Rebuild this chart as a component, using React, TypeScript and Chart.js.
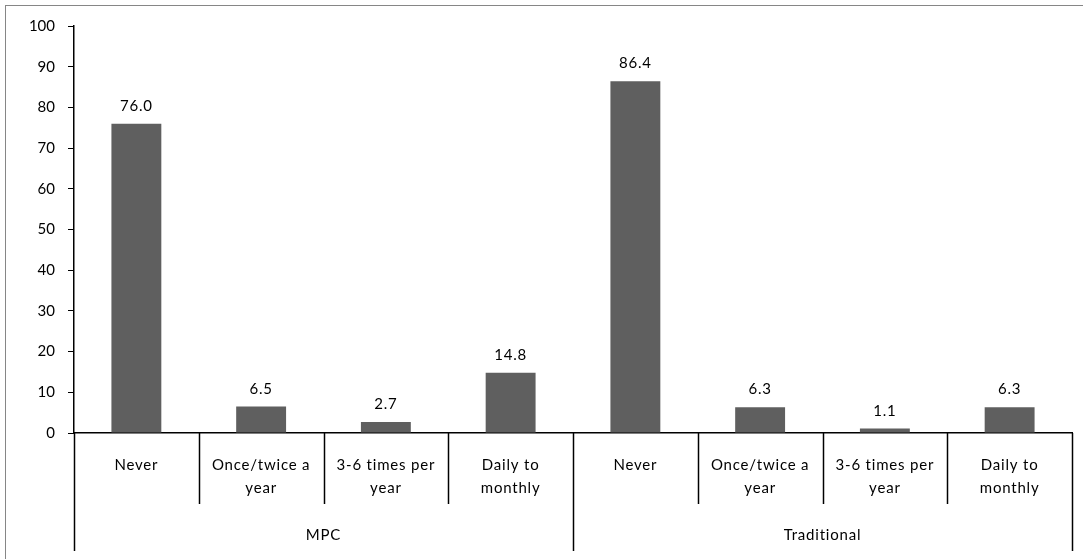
import React, { useEffect, useRef } from "react";
import { Chart, registerables } from "chart.js";

Chart.register(...registerables);

const groups = ["MPC", "Traditional"];
const categories = [
  ["Never"],
  ["Once/twice a", "year"],
  ["3-6 times per", "year"],
  ["Daily to", "monthly"],
];
const mpcValues = [76.0, 6.5, 2.7, 14.8];
const traditionalValues = [86.4, 6.3, 1.1, 6.3];
const yTicks = [0, 10, 20, 30, 40, 50, 60, 70, 80, 90, 100];

const FONT = "Lato, 'Open Sans', sans-serif";

export default function App() {
  const ref = useRef<HTMLCanvasElement | null>(null);

  useEffect(() => {
    document.body.style.margin = "0";
    const labels: string[][] = [];
    groups.forEach(() => categories.forEach((c) => labels.push(c)));
    const values = [...mpcValues, ...traditionalValues];

    const overlay = {
      id: "overlay",
      afterDraw(chart: any) {
        const ctx = chart.ctx;
        const x = chart.scales.x;
        const y = chart.scales.y;
        const bottom = chart.chartArea.bottom;
        const n = labels.length;
        const step = x.getPixelForValue(1) - x.getPixelForValue(0);
        ctx.save();
        ctx.fillStyle = "#000";
        ctx.font = `15px ${FONT}`;
        try {
          (ctx as any).letterSpacing = "0.8px";
        } catch (e) {}
        ctx.textAlign = "center";
        ctx.textBaseline = "alphabetic";
        values.forEach((v, i) => {
          const px = x.getPixelForValue(i);
          const py = y.getPixelForValue(v);
          ctx.fillText(v.toFixed(1), px, py - 13);
        });
        // separators
        ctx.strokeStyle = "#000";
        ctx.lineWidth = 1.5;
        for (let i = 0; i <= n; i++) {
          const bx = Math.round(x.getPixelForValue(i) - step / 2) + 0.5;
          const isGroup = i % categories.length === 0;
          ctx.beginPath();
          ctx.moveTo(bx, bottom);
          ctx.lineTo(bx, isGroup ? bottom + 118 : bottom + 71);
          ctx.stroke();
        }
        // category labels
        ctx.textBaseline = "middle";
        labels.forEach((lines, i) => {
          const px = x.getPixelForValue(i);
          lines.forEach((t, k) => {
            ctx.fillText(t, px, bottom + 32 + k * 23);
          });
        });
        // group labels
        groups.forEach((g, gi) => {
          const a = x.getPixelForValue(gi * categories.length) - step / 2;
          const b = x.getPixelForValue((gi + 1) * categories.length - 1) + step / 2;
          ctx.fillText(g, (a + b) / 2, bottom + 102);
        });
        ctx.restore();
      },
    };

    const chart = new Chart(ref.current as HTMLCanvasElement, {
      type: "bar",
      data: {
        labels: labels.map((l) => l.join(" ")),
        datasets: [
          {
            data: values,
            backgroundColor: "#5f5f5f",
            categoryPercentage: 1,
            barPercentage: 0.4,
          },
        ],
      },
      options: {
        animation: false,
        responsive: false,
        maintainAspectRatio: false,
        layout: { padding: { top: 26, right: 11, left: 0, bottom: 0 } },
        plugins: { legend: { display: false }, tooltip: { enabled: false } },
        scales: {
          x: {
            grid: { display: false },
            ticks: { display: false },
            border: { display: true, color: "#000", width: 1.5 },
            afterFit: (s: any) => {
              s.height = 126;
            },
          },
          y: {
            min: 0,
            max: 100,
            afterBuildTicks: (s: any) => {
              s.ticks = yTicks.map((v) => ({ value: v }));
            },
            grid: {
              drawOnChartArea: false,
              drawTicks: true,
              tickLength: 6,
              color: "#000",
              lineWidth: 1,
            },
            border: { display: true, color: "#000", width: 1.5 },
            ticks: {
              color: "#000",
              font: { family: FONT, size: 15 },
              padding: 13,
            },
            afterFit: (s: any) => {
              s.width = 74;
            },
          },
        },
      },
      plugins: [overlay],
    });
    return () => chart.destroy();
  }, []);

  return (
    <div style={{ position: "relative", width: 1083, height: 559 }}>
      <canvas ref={ref} width={1083} height={559} style={{ position: "absolute", left: 0, top: 0 }} />
      <div
        style={{
          position: "absolute",
          left: 5,
          top: 5,
          width: 1090,
          height: 560,
          borderTop: "1px solid #868686",
          borderLeft: "1px solid #868686",
          pointerEvents: "none",
        }}
      />
    </div>
  );
}
